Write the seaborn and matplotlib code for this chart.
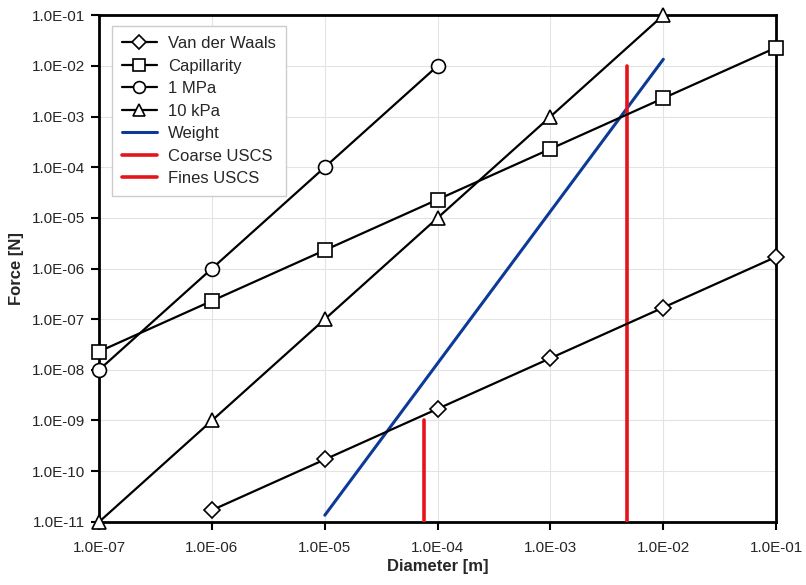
import numpy as np
import pandas as pd
import matplotlib
matplotlib.use("Agg")
import matplotlib.pyplot as plt
import matplotlib.ticker as mticker
import seaborn as sns

# Data
vdw_d = [1e-6, 1e-5, 1e-4, 1e-3, 1e-2, 1e-1]
vdw_f = [1.7e-11, 1.7e-10, 1.7e-9, 1.7e-8, 1.7e-7, 1.7e-6]
cap_d = [1e-7, 1e-6, 1e-5, 1e-4, 1e-3, 1e-2, 1e-1]
cap_f = [2.3e-8, 2.3e-7, 2.3e-6, 2.3e-5, 2.3e-4, 2.3e-3, 2.3e-2]
mpa_d = [1e-7, 1e-6, 1e-5, 1e-4]
mpa_f = [1e-8, 1e-6, 1e-4, 1e-2]
kpa_d = [1e-7, 1e-6, 1e-5, 1e-4, 1e-3, 1e-2]
kpa_f = [1e-11, 1e-9, 1e-7, 1e-5, 1e-3, 1e-1]
wt_d = [1e-5, 1e-2]
wt_f = [1.35e-11, 1.35e-2]
coarse_d = [4.75e-3, 4.75e-3]
coarse_f = [1e-11, 1e-2]
fines_d = [7.5e-5, 7.5e-5]
fines_f = [1e-11, 1e-9]
x_ticks = [1e-7, 1e-6, 1e-5, 1e-4, 1e-3, 1e-2, 1e-1]
y_ticks = [1e-11, 1e-10, 1e-9, 1e-8, 1e-7, 1e-6, 1e-5, 1e-4, 1e-3, 1e-2, 1e-1]

sns.set_style("white")
plt.rcParams['font.family'] = ['Liberation Sans', 'DejaVu Sans']

fig = plt.figure(figsize=(8.06, 5.85), dpi=100)
ax = fig.add_axes([0.123, 0.108, 0.840, 0.866])

mk = dict(color="black", linewidth=1.6, markerfacecolor="white",
          markeredgecolor="black", markeredgewidth=1.2, markersize=10,
          clip_on=False, zorder=5)
sns.lineplot(x=vdw_d, y=vdw_f, ax=ax, marker="D", label="Van der Waals",
             **{**mk, "markersize": 8})
sns.lineplot(x=cap_d, y=cap_f, ax=ax, marker="s", label="Capillarity", **mk)
sns.lineplot(x=mpa_d, y=mpa_f, ax=ax, marker="o", label="1 MPa", **mk)
sns.lineplot(x=kpa_d, y=kpa_f, ax=ax, marker="^", label="10 kPa", **mk)
sns.lineplot(x=wt_d, y=wt_f, ax=ax, color="#0d3a96", linewidth=2.2,
             label="Weight", zorder=4)
sns.lineplot(x=coarse_d, y=coarse_f, ax=ax, color="#e5141c", linewidth=2.6,
             label="Coarse USCS", zorder=4, orient="y")
sns.lineplot(x=fines_d, y=fines_f, ax=ax, color="#e5141c", linewidth=2.6,
             label="Fines USCS", zorder=4, orient="y")

ax.set_xscale("log")
ax.set_yscale("log")
ax.set_xlim(1e-7, 1e-1)
ax.set_ylim(1e-11, 1e-1)
ax.set_xticks(x_ticks)
ax.set_yticks(y_ticks)
fmt = mticker.FuncFormatter(lambda v, p: f"{v:.1E}")
ax.xaxis.set_major_formatter(fmt)
ax.yaxis.set_major_formatter(fmt)
ax.xaxis.set_minor_locator(mticker.NullLocator())
ax.yaxis.set_minor_locator(mticker.NullLocator())
ax.grid(True, which="major", color="#e3e3e3", linewidth=0.8)
ax.set_axisbelow(True)
for s in ax.spines.values():
    s.set_color("black")
    s.set_linewidth(2)
ax.tick_params(axis="both", which="major", direction="out", length=6,
               width=1.5, color="black", labelsize=11, pad=4,
               bottom=True, left=True, top=False, right=False)
ax.tick_params(axis="x", pad=8)
ax.set_xlabel("Diameter [m]", fontsize=12, fontweight="bold", labelpad=3)
ax.set_ylabel("Force [N]", fontsize=12, fontweight="bold", labelpad=6)

leg = ax.legend(loc="upper left", bbox_to_anchor=(0.006, 0.995), fontsize=12,
                frameon=True, fancybox=False, edgecolor="#cccccc",
                framealpha=1, handlelength=2.1, borderpad=0.6,
                labelspacing=0.45, handletextpad=0.7, markerscale=0.85)
leg.get_frame().set_linewidth(1.0)

fig.savefig("out.png", dpi=100)
